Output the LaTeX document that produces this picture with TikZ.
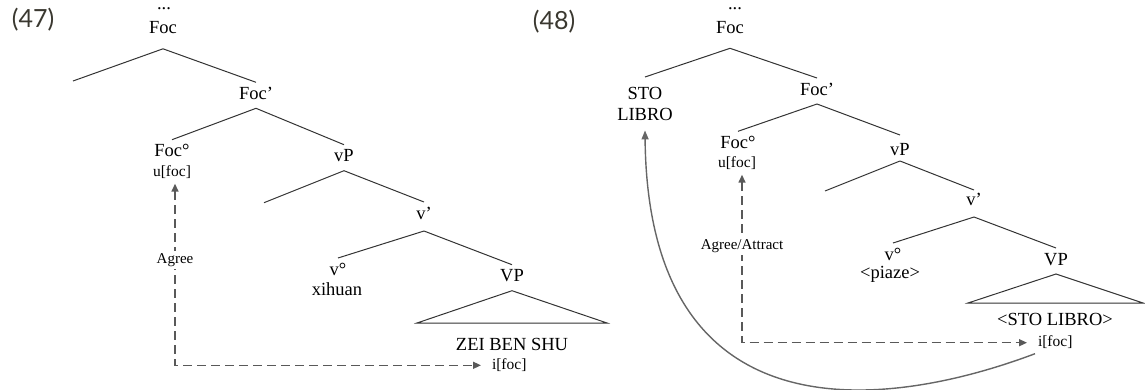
\documentclass[tikz,border=0pt]{standalone}
\usepackage{fontspec}
\setmainfont{Liberation Serif}
\newfontfamily\exfont{Lato}
\usetikzlibrary{arrows.meta,positioning}
\definecolor{exgray}{RGB}{58,56,48}

\begin{document}
\begin{tikzpicture}[x=1pt, y=-1pt,
    every node/.style = {inner sep=0pt, outer sep=0pt},
    cat/.style = {font=\fontsize{18.5}{21}\selectfont, anchor=base,
      text height=17pt, text depth=9pt},
    dots/.style = {cat, text height=3pt, text depth=0pt},
    feat/.style = {font=\fontsize{15.5}{18}\selectfont, anchor=base,
      text height=12pt, text depth=4pt, outer sep=3pt},
    exnum/.style = {font=\exfont\fontsize{25}{30}\selectfont, text=exgray},
    every edge/.style = {draw=black!80, line width=1pt},
    branch/.style = {draw=black!80, line width=1pt},
    agree/.style = {draw=black!65, line width=1.5pt, dash pattern=on 9pt off 5pt,
      {Triangle[length=8pt,width=7pt]}-{Triangle[length=8pt,width=7pt]},
      shorten >=8pt},
    opname/.style = {font=\fontsize{15}{18}\selectfont, fill=white, inner ysep=2pt},
    move/.style = {draw=black!60, line width=1.4pt,
      -{Triangle[length=9pt,width=7pt]}}]
  \useasboundingbox (0,0) rectangle (1145,389);

  % (47)
  \node (exA) [exnum] at (33,20) {(47)};
  \node (dotsA) [dots] at (164,9) {...};
  \node (focA) [cat, text depth=15.5pt] at (163,33.3) {Foc};
  \coordinate (specA) at (73,81);
  \node (focbarA) [cat] at (256,99.3) {Foc'};
  \node (foczeroA) [cat] at (172,156.7) {Foc°};
  \node (ufocA) [feat] at (172,176.7) {u[foc]};
  \node (vPA) [cat] at (344,161.7) {vP};
  \coordinate (vspecA) at (264,202.7);
  \node (vbarA) [cat, text depth=12pt] at (424,219) {v'};
  \node (vzeroA) [cat] at (338,275) {v°};
  \node (xihuan) [cat] at (337,295) {xihuan};
  \node (VPA) [cat] at (512,281.7) {VP};
  \coordinate (triLA) at (417,323);
  \coordinate (triRA) at (607,323);
  \node (zei) [cat] at (512,350) {ZEI BEN SHU};
  \node (ifocA) [feat, anchor=base west] at (489,369.3) {i[foc]};

  \draw (focA.south) edge (specA) edge (focbarA.north);
  \draw (focbarA.south) edge (foczeroA.north) edge (vPA.north);
  \draw (vPA.south) edge (vspecA) edge (vbarA.north);
  \draw (vbarA.south) edge (vzeroA.north) edge (VPA.north);
  \draw[branch] (VPA.south) -- (triLA) -- (triRA) -- cycle;
  \draw[agree] ([xshift=3pt]ufocA.south) |- (ifocA.west)
    node[opname, pos=0.21] {Agree};

  % (48)
  \node (exB) [exnum] at (554,22) {(48)};
  \node (dotsB) [dots] at (735,9) {...};
  \node (focB) [cat, text depth=15pt] at (730,33.3) {Foc};
  \node (stolibro) [font=\fontsize{18.5}{21}\selectfont, align=center,
    inner ysep=10pt, anchor=north] at (645,77) {STO\\LIBRO};
  \node (focbarB) [cat] at (817,95) {Foc'};
  \node (foczeroB) [cat] at (738,148.3) {Foc°};
  \node (ufocB) [feat] at (737,167.7) {u[foc]};
  \node (vPB) [cat, text height=20pt, text depth=6pt] at (900,155) {vP};
  \coordinate (vspecB) at (825,191);
  \node (vbarB) [cat, text height=15pt, text depth=12pt] at (974,205) {v'};
  \node (vzeroB) [cat] at (893,260) {v°};
  \node (piaze) [cat] at (890,278) {<piaze>};
  \node (VPB) [cat] at (1056,265) {VP};
  \coordinate (triLB) at (968,303);
  \coordinate (triRB) at (1143,303);
  \node (copyB) [cat] at (1055,325) {<STO LIBRO>};
  \node (ifocB) [feat, anchor=base west] at (1035,346.7) {i[foc]};

  \draw (focB.south) edge (stolibro.north) edge (focbarB.north);
  \draw (focbarB.south) edge (foczeroB.north) edge (vPB.north);
  \draw (vPB.south) edge (vspecB) edge (vbarB.north);
  \draw (vbarB.south) edge (vzeroB.north) edge (VPB.north);
  \draw[branch] (VPB.south) -- (triLB) -- (triRB) -- cycle;
  \draw[agree] ([xshift=5pt]ufocB.south) |- (ifocB.west)
    node[opname, pos=0.214] {Agree/Attract};
  \draw[move] (ifocB.south west) .. controls (880,412) and (648,436) .. (stolibro.south);
\end{tikzpicture}
\end{document}
